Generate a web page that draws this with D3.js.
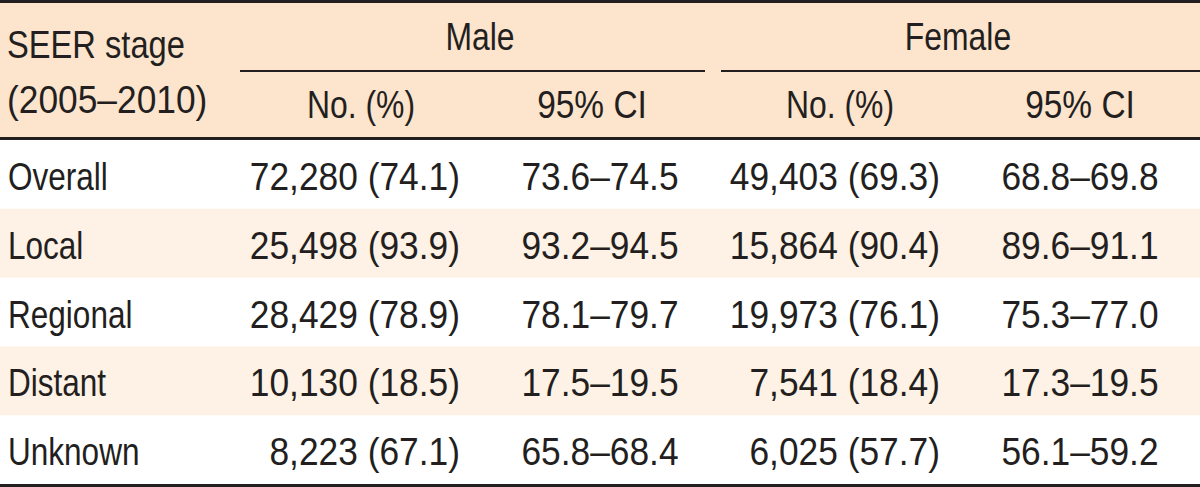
<!DOCTYPE html>
<html><head><meta charset="utf-8">
<script src="https://cdn.jsdelivr.net/npm/d3@7"></script>
<style>html,body{margin:0;padding:0;background:#fff;}svg{display:block;}</style>
</head><body>
<svg id="c" width="1200" height="487"></svg>
<script>
const stages = ["Overall","Local","Regional","Distant","Unknown"];
const maleNo = [72280,25498,28429,10130,8223];
const malePct = [74.1,93.9,78.9,18.5,67.1];
const maleCI = ["73.6–74.5","93.2–94.5","78.1–79.7","17.5–19.5","65.8–68.4"];
const femaleNo = [49403,15864,19973,7541,6025];
const femalePct = [69.3,90.4,76.1,18.4,57.7];
const femaleCI = ["68.8–69.8","89.6–91.1","75.3–77.0","17.3–19.5","56.1–59.2"];
const groups = ["Male","Female"];
const subHeads = ["No. (%)","95% CI"];
const stubHead = ["SEER stage","(2005–2010)"];

const W=1200,H=487;
const svg=d3.select("#c");
const FONT='"Liberation Sans",Arial,sans-serif';
const FS=38;
const ink="#231f20";
const headBg="#fde4cd", stripe="#fef1e5";

const y=d3.scaleBand().domain(stages).range([140,484]);
const fmt=d3.format(",");

svg.append("rect").attr("x",0).attr("y",0).attr("width",W).attr("height",140).attr("fill",headBg);
svg.selectAll("rect.stripe").data(stages.filter((d,i)=>i%2===1)).join("rect")
  .attr("class","stripe").attr("x",0).attr("y",d=>y(d)).attr("width",W).attr("height",y.bandwidth()).attr("fill",stripe);

function txt(x,yy,s,anchor,sx){
  return svg.append("text").attr("transform",`translate(${x},${yy}) scale(${sx||0.83},1)`)
    .attr("text-anchor",anchor||"start").attr("font-family",FONT).attr("font-size",FS).attr("fill",ink).text(s);
}
txt(7,58,stubHead[0],"start",0.86);
txt(7,113,stubHead[1],"start",0.93);
const groupSpans=[[240,705],[721,1200]];
const groupX=[480,958];
groups.forEach((g,i)=>{
  const [a,b]=groupSpans[i];
  txt(groupX[i],50,g,"middle",0.84);
  svg.append("line").attr("x1",a).attr("x2",b).attr("y1",71).attr("y2",71).attr("stroke",ink).attr("stroke-width",2);
});
const subX=[[361,592],[840,1080]];
subX.forEach(p=>p.forEach((x,j)=>txt(x,118,subHeads[j],"middle",j===0?0.84:0.88)));

svg.append("rect").attr("x",0).attr("y",0).attr("width",W).attr("height",3).attr("fill",ink);
svg.append("rect").attr("x",0).attr("y",137).attr("width",W).attr("height",3).attr("fill",ink);
svg.append("rect").attr("x",0).attr("y",484).attr("width",W).attr("height",3).attr("fill",ink);

const rows=stages.map((s,i)=>({s,mn:maleNo[i],mp:malePct[i],mc:maleCI[i],fn:femaleNo[i],fp:femalePct[i],fc:femaleCI[i]}));
const NS=0.93;
rows.forEach(r=>{
  const by=y(r.s)+y.bandwidth()/2+15.5;
  txt(8,by,r.s);
  txt(460,by,`${fmt(r.mn)} (${r.mp.toFixed(1)})`,"end",NS);
  txt(600,by,r.mc,"middle",NS);
  txt(940,by,`${fmt(r.fn)} (${r.fp.toFixed(1)})`,"end",NS);
  txt(1080,by,r.fc,"middle",NS);
});
</script>
</body></html>
